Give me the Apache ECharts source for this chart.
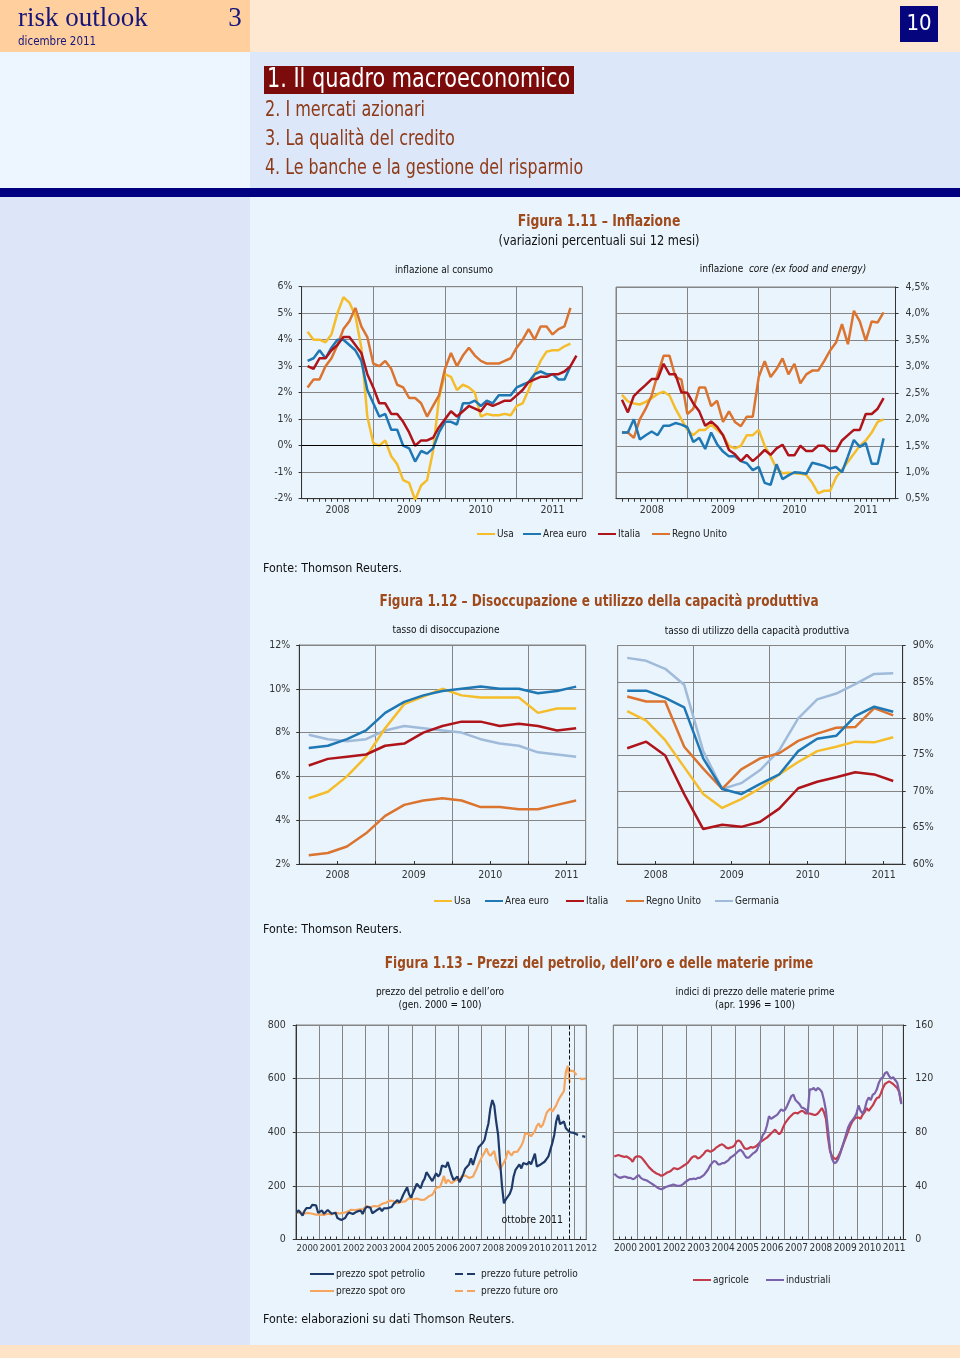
<!DOCTYPE html>
<html><head><meta charset="utf-8">
<script src="https://cdn.jsdelivr.net/npm/echarts/dist/echarts.min.js"></script>
<style>html,body{margin:0;padding:0;background:#E9F4FD}#c{width:960px;height:1358px}</style>
</head><body><div id="c"></div>
<script>
// ---------- DATA ----------
// Fig 1.11 left: consumer inflation, monthly from Jan 2008 (%)
const inflUsa   = [4.3,4.0,4.0,3.9,4.2,5.0,5.6,5.4,4.9,3.7,1.1,0.1, 0.0,0.2,-0.4,-0.7,-1.3,-1.4,-2.05,-1.5,-1.3,-0.2,1.8,2.7, 2.6,2.1,2.3,2.2,2.0,1.1,1.2,1.15,1.15,1.2,1.15,1.5, 1.6,2.1,2.7,3.2,3.55,3.6,3.6,3.75,3.85];
const inflEuro  = [3.2,3.3,3.6,3.3,3.7,4.0,4.0,3.8,3.6,3.2,2.1,1.6, 1.1,1.2,0.6,0.6,0.0,-0.1,-0.6,-0.2,-0.3,-0.1,0.5,0.9, 0.9,0.8,1.6,1.6,1.7,1.5,1.7,1.6,1.9,1.9,1.9,2.2, 2.3,2.4,2.7,2.8,2.7,2.7,2.5,2.5,3.0];
const inflItalia= [3.0,2.9,3.3,3.3,3.6,3.8,4.1,4.1,3.8,3.5,2.7,2.2, 1.6,1.6,1.2,1.2,0.9,0.5,0.0,0.2,0.2,0.3,0.7,1.0, 1.3,1.1,1.3,1.5,1.4,1.3,1.6,1.5,1.6,1.7,1.7,1.9, 2.1,2.4,2.5,2.6,2.6,2.7,2.7,2.8,3.0,3.4];
const inflUk    = [2.2,2.5,2.5,3.0,3.3,3.8,4.4,4.7,5.2,4.5,4.1,3.1, 3.0,3.2,2.9,2.3,2.2,1.8,1.8,1.6,1.1,1.5,1.9,2.9, 3.5,3.0,3.4,3.7,3.4,3.2,3.1,3.1,3.1,3.2,3.3,3.7, 4.0,4.4,4.0,4.5,4.5,4.2,4.4,4.5,5.2];
// Fig 1.11 right: core inflation, monthly from Jan 2008 (%)
const coreUsa   = [2.46,2.34,2.3,2.28,2.33,2.4,2.48,2.52,2.45,2.2,2.0,1.8, 1.7,1.8,1.8,1.9,1.8,1.7,1.5,1.45,1.5,1.7,1.7,1.8, 1.5,1.3,1.07,0.98,0.99,0.98,0.97,0.95,0.8,0.6,0.65,0.65, 0.9,1.05,1.2,1.35,1.5,1.6,1.75,1.95,2.0];
const coreEuro  = [1.75,1.75,2.0,1.62,1.7,1.77,1.7,1.88,1.88,1.93,1.9,1.85, 1.57,1.65,1.44,1.75,1.53,1.39,1.3,1.3,1.21,1.17,1.04,1.1, 0.8,0.76,1.15,0.87,0.94,1.0,0.99,0.97,1.18,1.15,1.12,1.07, 1.1,1.0,1.3,1.61,1.48,1.55,1.16,1.16,1.64];
const coreItalia= [2.37,2.13,2.44,2.55,2.65,2.76,2.76,3.05,2.85,2.85,2.51,2.5, 2.3,2.15,1.88,1.96,1.86,1.7,1.42,1.34,1.21,1.33,1.21,1.31, 1.42,1.33,1.45,1.52,1.32,1.32,1.5,1.4,1.4,1.5,1.5,1.4, 1.4,1.6,1.7,1.8,1.8,2.1,2.1,2.2,2.4];
const coreUk    = [1.75,1.75,1.65,2.0,2.2,2.45,2.85,3.2,3.2,2.8,2.75,2.1, 2.2,2.6,2.6,2.25,2.35,1.95,2.15,1.95,1.87,2.05,2.05,2.8, 3.1,2.8,2.95,3.15,2.85,3.05,2.68,2.85,2.92,2.92,3.1,3.3, 3.45,3.8,3.42,4.05,3.85,3.48,3.85,3.83,4.02];
// Fig 1.12 left: unemployment rate, quarterly from Q1 2008 (%)
const unUsa     = [5.0,5.3,6.0,6.9,8.2,9.3,9.65,10.0,9.7,9.6,9.6,9.6,8.9,9.1,9.1];
const unEuro    = [7.3,7.4,7.7,8.1,8.9,9.4,9.7,9.9,10.0,10.1,10.0,10.0,9.8,9.9,10.1];
const unItalia  = [6.5,6.8,6.9,7.0,7.4,7.5,8.0,8.3,8.5,8.5,8.3,8.4,8.3,8.1,8.2];
const unUk      = [2.4,2.5,2.8,3.4,4.2,4.7,4.9,5.0,4.9,4.6,4.6,4.5,4.5,4.7,4.9];
const unGer     = [7.9,7.7,7.6,7.7,8.1,8.3,8.2,8.1,8.0,7.7,7.5,7.4,7.1,7.0,6.9];
// Fig 1.12 right: capacity utilisation, quarterly from Q1 2008 (%)
const capUsa    = [81.0,79.7,77.0,73.3,69.6,67.7,68.9,70.4,72.3,74.0,75.5,76.1,76.8,76.7,77.4];
const capEuro   = [83.8,83.8,82.8,81.5,74.5,70.3,69.6,71.0,72.3,75.5,77.2,77.6,80.3,81.6,80.9];
const capItalia = [75.9,76.8,74.9,69.6,64.8,65.4,65.1,65.8,67.6,70.4,71.3,71.9,72.6,72.3,71.4];
const capUk     = [83.0,82.3,82.3,76.1,73.1,70.3,73.0,74.5,75.2,76.9,77.9,78.7,78.8,81.4,80.4];
const capGer    = [88.3,87.9,86.8,84.6,75.5,70.3,71.1,72.9,75.6,80.0,82.6,83.4,84.7,86.1,86.2];
// Fig 1.13 left: oil & gold (Jan 2000 = 100), monthly from Jan 2000
const oilSpot = [100,109,108,89,107,117,113,118,129,122,127,100, 100,108,96,100,110,109,96,101,100,80,74,73, 76,80,93,101,100,95,101,104,111,108,95,111,
  122,129,119,98,101,108,111,117,106,116,113,117, 122,121,133,131,147,138,150,167,169,195,169,156, 174,178,208,204,191,214,226,251,247,229,218,223,
  247,235,244,276,275,270,289,287,240,222,225,235, 214,227,244,264,265,280,303,278,302,325,345,345, 360,372,405,433,489,520,500,440,390,290,200,135,
  150,155,170,190,235,260,255,280,265,285,290,280, 290,280,300,320,272,275,280,285,290,300,310,335, 360,390,440,465,430,435,440,415,410,400];
const goldSpot = [100,106,101,98,97,100,99,96,96,95,93,95, 93,92,92,92,96,95,94,96,100,99,97,97, 99,104,103,106,111,113,110,109,112,111,112,117,
  125,126,120,115,125,125,123,126,133,133,137,143, 145,142,143,142,135,138,140,141,142,148,154,155, 149,149,153,151,148,151,149,154,160,165,167,179,
  193,195,196,215,237,209,223,222,210,206,221,221, 222,234,230,239,234,230,234,234,250,265,283,282, 313,324,340,320,312,313,330,295,292,262,268,287,
  302,331,325,313,326,332,328,334,350,367,396,399, 393,385,391,404,424,433,419,427,447,472,481,489, 477,482,500,518,531,537,553,625,648,585];
const FUT_START = 141; // month index of Oct 2011
const oilFut  = [400,400,398,395,391,388,386,384,383];
const goldFut = [630,632,628,618,610,603,598,600,600];
const OCT_2011 = 2011.77;
// Fig 1.13 right: commodity price indices (Apr 1996 = 100), monthly from Jan 2000
const agricole = [62,62.5,63,62.5,62,61.5,62,61,60,58,61,62, 62,61.5,60,58,56,54,52.5,51,50,49,48.5,47.5, 48,49,50,50.5,51.5,53,53,52.5,53,54,55,56,
  57,59,61,62,62,60.5,61,62.5,64,66,66.5,65.5, 66,67,68.5,69.5,70.5,71,70,68.5,68,68.5,69,70, 73,74,73,70.5,68,67.5,68,69,68.5,69,70,71.5,
  73,74,75,76,77.5,79,80.5,82,80,78.5,80,84, 87,89,91,92.5,94,94.5,94,95,96,95.5,94,94, 94,93.5,93,93,94,96,98,95,90,76,66,62,
  60.5,60,62,65,69,73,77,81,85,88,90,91, 91,90,93,95,98,96,98,100,103,105.5,106,109, 113,116,117,118,117,116,114.5,113,110,102];
const industriali = [49,47.5,46.5,46,46.5,47,46.5,46,46,45,45.5,47, 48,46,45,44.5,44,43,42,41,40,39,38,37.5, 38,39,39.5,40,40.5,41,40.5,40,40,40.5,41.5,43,
  44,45,45,45.5,45,46,46,47,48,50,52,55, 57,58.5,58,56,56,57,57,58,59,61,62,63, 64.5,66,67,65.5,63,61,61,62.5,64,65,66.5,70,
  74,78,80,85,92,90,91,92,93,95,97,96, 97,100,103.5,107,108,104,102.5,101,98.5,98,97,94, 112,112,113,111,113,112,110,104,96,82,67,60,
  57,57.5,60,64,69,74,79,84,87,89,91,94, 100,96,94,97,103,106,104,108,109,112,117,120, 121,124,125,122,120,121,119,117,110,101];

// ---------- STYLE ----------
const F = "'Liberation Sans Narrow','DejaVu Sans Condensed','Arial Narrow','Liberation Sans',sans-serif";
const SERIF = "'Liberation Serif','DejaVu Serif',serif";
const GRID = '#858585', AX = '#333333', LBL = '#333333';
const TITLE = '#A04A1C', MENU = '#8E3A17';
const COL = {usa:'#F5BD2B', euro:'#1F77B4', italia:'#AE1419', uk:'#DB742F', ger:'#A0BADA',
             oil:'#1E3A68', gold:'#F5A55E', agr:'#C43C4C', ind:'#7B62A8'};

const monthly08 = a => a.map((v,i)=>[2008+(i+1)/12, v]);
const quarterly08 = a => a.map((v,i)=>[2008+(1.5+3*i)/12, v]);
const monthly00 = (a, s=0) => a.map((v,i)=>[2000+(s+i+0.5)/12, v]);

const grids = [
  {left:301.6, top:286.7, width:280.8, height:212},
  {left:616,   top:287,   width:279.5, height:211.7},
  {left:299.2, top:645,   width:286.5, height:219},
  {left:617.7, top:645.5, width:285,   height:218.5},
  {left:295.8, top:1025,  width:290.4, height:214.5},
  {left:613.3, top:1025,  width:290,   height:214.5}
];
const xr = [[2008,2008+47/12],[2008,2008+47/12],[2008,2011.75],[2008,2011.75],[2000,2012.5],[2000,2011.875]];

function xAxesFor(gi, cfg){
  const [mn,mx] = xr[gi];
  return [
    {type:'value', gridIndex:gi, min:mn, max:mx, interval:1, position:'bottom',
     axisLine:{show:true, onZero:false, lineStyle:{color:AX, width:1}},
     axisTick:{show:false, inside:!!cfg.inside},
     minorTick:{show:!!cfg.minor, splitNumber:cfg.minor||4, length:3, lineStyle:{color:AX, width:1}},
     axisLabel:{show:false},
     splitLine:{show:true, lineStyle:{color:GRID, width:1}}},
    {type:'value', gridIndex:gi, min:mn, max:mx, interval:0.5, position:'bottom',
     axisLine:{show:false, onZero:false},
     axisTick:{show:!!cfg.mid, inside:true, length:3, lineStyle:{color:AX}},
     splitLine:{show:false},
     axisLabel:{show:true, margin:cfg.margin, fontSize:cfg.fs||10.5, color:LBL, fontFamily:F,
       showMinLabel:true, showMaxLabel:true,
       formatter:v=> (Math.abs((v%1)-0.5)<1e-6) ? String(Math.floor(v)) : ''}}
  ];
}
function yAxisFor(gi, pos, mn, mx, iv, fmt, margin){
  return {type:'value', gridIndex:gi, position:pos, min:mn, max:mx, interval:iv,
    axisLine:{show:true, onZero:false, lineStyle:{color:AX, width:1}},
    axisTick:{show:true, length:3, lineStyle:{color:AX}},
    splitLine:{show:true, lineStyle:{color:GRID, width:1}},
    axisLabel:{margin, fontSize:10.5, color:LBL, fontFamily:F, formatter:fmt}};
}
function ser(name, gi, data, color, width, dashed, extra){
  return Object.assign({name, type:'line', xAxisIndex:gi*2, yAxisIndex:gi, data, symbol:'none',
    showSymbol:false, lineStyle:{color, width, type:dashed?'dashed':'solid'}, itemStyle:{color},
    emphasis:{disabled:true}, z:3}, extra||{});
}
function leg(name, x, y, w){
  return {show:true, data:[name], left:x, top:y-6, padding:0, itemGap:0, itemWidth:w||18, itemHeight:12,
    selectedMode:false, itemStyle:{opacity:0, borderWidth:0},
    textStyle:{fontSize:10, fontFamily:F, color:'#222', padding:[0,0,0,-3]}};
}
function txt(x, y, text, size, o){
  o = o||{};
  const al = o.align||'left';
  return {type:'text', x, y, z:10, silent:true, scaleX:o.sx||1, style:{text, fontSize:size, fontFamily:o.font||F,
    fontWeight:o.weight||'normal', fontStyle:o.style||'normal', fill:o.fill||'#111',
    align:al, textAlign:al, verticalAlign:'middle', textVerticalAlign:'middle', rich:o.rich}};
}
function rect(x,y,w,h,fill,z){ return {type:'rect', z:(z===undefined?-10:z), silent:true, shape:{x,y,width:w,height:h}, style:{fill}}; }

const zeroLine = {silent:true, symbol:['none','none'], label:{show:false},
  lineStyle:{color:'#000', width:1, type:'solid'}, data:[{yAxis:0}]};
const octLine = {silent:true, symbol:['none','none'], label:{show:false},
  lineStyle:{color:'#111', width:1, type:'dashed'}, data:[{xAxis:OCT_2011}]};

const pct = v => v + '%';
const pctComma = v => v.toFixed(1).replace('.', ',') + '%';

const option = {
  animation:false,
  backgroundColor:'#E9F4FD',
  graphic:{elements:[
    rect(0,0,250,52,'#FFD09E'), rect(250,0,710,52,'#FFE8D1'),
    rect(0,52,250,136,'#EDF5FE'), rect(250,52,710,136,'#DCE7FA'),
    rect(0,188,960,9,'#000080'),
    rect(0,197,250,1148,'#DCE6F8'), rect(250,197,710,1148,'#E9F4FD'),
    rect(0,1345,960,13,'#FFE3C6'),
    txt(18,19,'risk outlook',27,{font:SERIF, fill:'#15157A'}),
    txt(235,19,'3',27,{font:SERIF, fill:'#15157A', align:'center'}),
    txt(18,42,'dicembre 2011',11.5,{fill:'#15157A'}),
    rect(900,6,38,36,'#05057D',5),
    txt(919,24,'10',22,{fill:'#fff', align:'center'}),
    rect(264,66,310,28,'#7C0B0B',5),
    txt(267,80,'1. Il quadro macroeconomico',26,{fill:'#fff', sx:0.89}),
    txt(265,111,'2. I mercati azionari',20.5,{fill:MENU, sx:0.87}),
    txt(265,140,'3. La qualità del credito',20.5,{fill:MENU, sx:0.87}),
    txt(265,169,'4. Le banche e la gestione del risparmio',20.5,{fill:MENU, sx:0.86}),

    txt(599,222,'Figura 1.11 – Inflazione',16,{align:'center', fill:TITLE, weight:'bold', sx:0.86}),
    txt(599,241,'(variazioni percentuali sui 12 mesi)',13.5,{align:'center', sx:0.94}),
    txt(444,270,'inflazione al consumo',10,{align:'center'}),
    txt(783,269,'{a|inflazione  }{b|core (ex food and energy)}',10,{align:'center',
      rich:{a:{fontSize:10, fontFamily:F, fill:'#111'}, b:{fontSize:10, fontFamily:F, fontStyle:'italic', fill:'#111'}}}),
    txt(263,569,'Fonte: Thomson Reuters.',13,{sx:0.95}),

    txt(599,602,'Figura 1.12 – Disoccupazione e utilizzo della capacità produttiva',16,{align:'center', fill:TITLE, weight:'bold', sx:0.84}),
    txt(446,630,'tasso di disoccupazione',10,{align:'center'}),
    txt(757,631,'tasso di utilizzo della capacità produttiva',10,{align:'center'}),
    txt(263,930,'Fonte: Thomson Reuters.',13,{sx:0.95}),

    txt(599,964,'Figura 1.13 – Prezzi del petrolio, dell’oro e delle materie prime',16,{align:'center', fill:TITLE, weight:'bold', sx:0.84}),
    txt(440,992,'prezzo del petrolio e dell’oro',10,{align:'center'}),
    txt(440,1005,'(gen. 2000 = 100)',10,{align:'center'}),
    txt(755,992,'indici di prezzo delle materie prime',10,{align:'center'}),
    txt(755,1005,'(apr. 1996 = 100)',10,{align:'center'}),
    txt(563,1220,'ottobre 2011',10.5,{align:'right'}),
    txt(263,1320,'Fonte: elaborazioni su dati Thomson Reuters.',13,{sx:0.95})
  ]},
  grid: grids.map(g=>Object.assign({show:true, borderColor:GRID, borderWidth:1, backgroundColor:'transparent',
        containLabel:false, outerBoundsMode:'none'}, g)),
  xAxis: [].concat(
    xAxesFor(0,{minor:12, margin:6}),
    xAxesFor(1,{minor:12, margin:6}),
    xAxesFor(2,{mid:true, margin:6}),
    xAxesFor(3,{mid:true, margin:6}),
    xAxesFor(4,{minor:4, inside:true, margin:4, fs:9.5}),
    xAxesFor(5,{minor:4, inside:true, margin:4, fs:10})
  ),
  yAxis: [
    yAxisFor(0,'left',-2,6,1,pct,9),
    yAxisFor(1,'right',0.5,4.5,0.5,pctComma,10),
    yAxisFor(2,'left',2,12,2,pct,9),
    yAxisFor(3,'right',60,90,5,pct,10),
    yAxisFor(4,'left',0,800,200,null,10),
    yAxisFor(5,'right',0,160,40,null,12)
  ],
  legend: [
    leg('Usa',476,535), leg('Area euro',522,535), leg('Italia',597,535), leg('Regno Unito',651,535),
    leg('Usa',433,902), leg('Area euro',484,902), leg('Italia',565,902), leg('Regno Unito',625,902), leg('Germania',714,902),
    leg('prezzo spot petrolio',309,1275,24), leg('prezzo future petrolio',454,1275,24),
    leg('prezzo spot oro',309,1292,24), leg('prezzo future oro',454,1292,24),
    leg('agricole',692,1281), leg('industriali',765,1281)
  ],
  series: [
    ser('Usa',0,monthly08(inflUsa),COL.usa,2.5,false,{markLine:zeroLine}),
    ser('Regno Unito',0,monthly08(inflUk),COL.uk,2.5),
    ser('Area euro',0,monthly08(inflEuro),COL.euro,2.5),
    ser('Italia',0,monthly08(inflItalia),COL.italia,2.5),

    ser('Usa',1,monthly08(coreUsa),COL.usa,2.5),
    ser('Regno Unito',1,monthly08(coreUk),COL.uk,2.5),
    ser('Area euro',1,monthly08(coreEuro),COL.euro,2.5),
    ser('Italia',1,monthly08(coreItalia),COL.italia,2.5),

    ser('Germania',2,quarterly08(unGer),COL.ger,2.5),
    ser('Regno Unito',2,quarterly08(unUk),COL.uk,2.5),
    ser('Usa',2,quarterly08(unUsa),COL.usa,2.5),
    ser('Italia',2,quarterly08(unItalia),COL.italia,2.5),
    ser('Area euro',2,quarterly08(unEuro),COL.euro,2.5),

    ser('Germania',3,quarterly08(capGer),COL.ger,2.5),
    ser('Usa',3,quarterly08(capUsa),COL.usa,2.5),
    ser('Italia',3,quarterly08(capItalia),COL.italia,2.5),
    ser('Regno Unito',3,quarterly08(capUk),COL.uk,2.5),
    ser('Area euro',3,quarterly08(capEuro),COL.euro,2.5),

    ser('prezzo spot oro',4,monthly00(goldSpot),COL.gold,2.2,false,{markLine:octLine}),
    ser('prezzo spot petrolio',4,monthly00(oilSpot),COL.oil,2.2),
    ser('prezzo future oro',4,monthly00(goldFut,FUT_START),COL.gold,2.2,true),
    ser('prezzo future petrolio',4,monthly00(oilFut,FUT_START),COL.oil,2.2,true),

    ser('agricole',5,monthly00(agricole),COL.agr,2.2),
    ser('industriali',5,monthly00(industriali),COL.ind,2.2)
  ]
};
const chart = echarts.init(document.getElementById('c'), null, {renderer:'canvas', width:960, height:1358});
chart.setOption(option);
</script></body></html>
